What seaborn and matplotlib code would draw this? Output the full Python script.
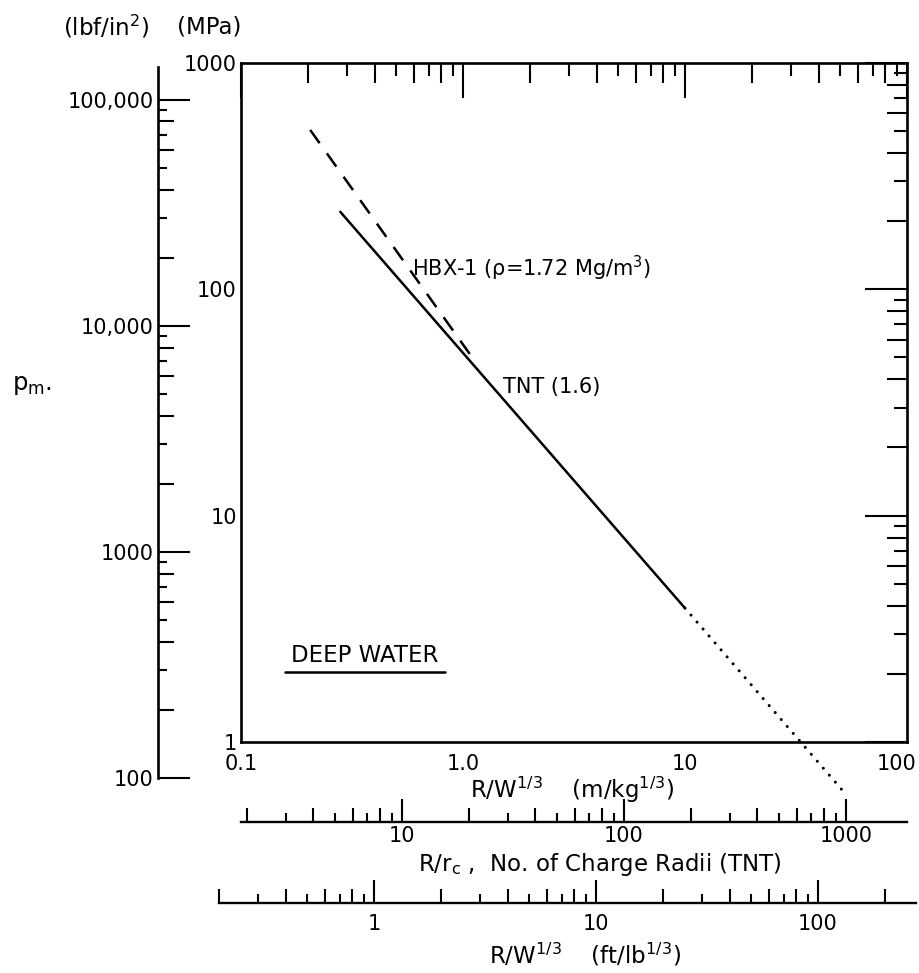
import numpy as np
import pandas as pd
import matplotlib
matplotlib.use("Agg")
import matplotlib.pyplot as plt
import seaborn as sns
from matplotlib.ticker import FixedLocator, FixedFormatter, NullFormatter
from matplotlib.lines import Line2D
from matplotlib.transforms import ScaledTranslation

# Peak shock-wave pressure in deep water versus scaled distance
# scaled distance R/W^(1/3) in m/kg^(1/3), peak pressure in MPa
tnt_z = [0.28, 10.0]
tnt_p = [220.0, 3.9]
tnt_ext_z = [10.0, 52.0]
tnt_ext_p = [3.9, 0.6]
hbx_z = [0.205, 1.1]
hbx_p = [506.0, 50.0]

mpa_ticks = [1, 10, 100, 1000]
mpa_labels = ["1", "10", "100", "1000"]
psi_ticks = [100, 1000, 10000, 100000]
psi_labels = ["100", "1000", "10,000", "100,000"]
z_ticks = [0.1, 1, 10, 100]
z_labels = ["0.1", "1.0", "10", "100"]
rc_ticks = [10, 100, 1000]
rc_labels = ["10", "100", "1000"]
ft_ticks = [1, 10, 100]
ft_labels = ["1", "10", "100"]

# unit conversions
PSI_PER_MPA = 145.038
RC_PER_Z = 18.87      # TNT charge radius, rho = 1.6 Mg/m^3
FT_PER_Z = 2.520      # (ft/lb^1/3) per (m/kg^1/3)

# ---- page geometry (pixels) ----
W, H = 920, 973
X0, DX = 241.0, 222.0     # x pixel of R/W^1/3 = 0.1, pixels per decade
Y0, DY = 63.0, 226.3      # y pixel of 1000 MPa, pixels per decade


def x_px(z):
    return X0 + (np.log10(z) + 1) * DX


def y_px(p):
    return Y0 + (3 - np.log10(p)) * DY


def box(xl, xr, yt, yb):
    return [xl / W, 1 - yb / H, (xr - xl) / W, (yb - yt) / H]


def minors(lo_exp, hi_exp):
    return [m * 10.0 ** e for e in range(lo_exp, hi_exp) for m in range(2, 10)]


def mant(v):
    return int(round(v / 10 ** np.floor(np.log10(v) + 1e-9)))


def set_minor_lengths(axis, long1, short1, long2=None, short2=None):
    locs = axis.get_minorticklocs()
    for t, v in zip(axis.get_minor_ticks(len(locs)), locs):
        even = mant(v) % 2 == 0
        t.tick1line.set_markersize(long1 if even else short1)
        if long2 is not None:
            t.tick2line.set_markersize(long2 if even else short2)


def set_major_lengths(axis, len1, len2=None):
    locs = axis.get_majorticklocs()
    for t in axis.get_major_ticks(len(locs)):
        t.tick1line.set_markersize(len1)
        if len2 is not None:
            t.tick2line.set_markersize(len2)


sns.set_theme(style="white")
plt.rcParams["font.family"] = ["DejaVu Sans"]
plt.rcParams["mathtext.default"] = "regular"
plt.rcParams["text.color"] = "black"
plt.rcParams["axes.edgecolor"] = "black"
plt.rcParams["xtick.color"] = "black"
plt.rcParams["ytick.color"] = "black"
plt.rcParams["xtick.labelcolor"] = "black"
plt.rcParams["ytick.labelcolor"] = "black"

FS = 15          # tick numbers
FS_T = 16.5      # titles and notes
LW_SPINE = 1.9
LW_TICK = 1.5

fig = plt.figure(figsize=(W / 100, H / 100), dpi=100)
fig.patch.set_facecolor("white")

# ---------------- main pressure/distance frame ----------------
ax = fig.add_axes(box(X0, X0 + 3 * DX, Y0, Y0 + 3 * DY))
ax.set_xscale("log")
ax.set_yscale("log")

curves = pd.DataFrame({
    "z": tnt_z + tnt_ext_z + hbx_z,
    "p": tnt_p + tnt_ext_p + hbx_p,
    "curve": ["TNT"] * len(tnt_z) + ["TNT ext"] * len(tnt_ext_z) + ["HBX-1"] * len(hbx_z),
})
sns.lineplot(data=curves, x="z", y="p", style="curve",
             dashes={"TNT": "", "TNT ext": (0.01, 3.0), "HBX-1": (6.5, 5.0)},
             color="black", linewidth=1.8, estimator=None, sort=False,
             legend=False, ax=ax)
for line in ax.lines:
    line.set_clip_on(False)
    xd = np.asarray(line.get_xdata())
    if len(xd) and np.isclose(xd[0], tnt_ext_z[0]):
        line.set_dash_capstyle("round")
        line.set_linewidth(2.2)

ax.set_xlim(0.1, 100)
ax.set_ylim(1, 1000)
ax.set_xlabel("")
ax.set_ylabel("")
ax.xaxis.set_major_locator(FixedLocator(z_ticks))
ax.xaxis.set_major_formatter(FixedFormatter(z_labels))
ax.xaxis.set_minor_locator(FixedLocator(minors(-1, 2)))
ax.xaxis.set_minor_formatter(NullFormatter())
ax.yaxis.set_major_locator(FixedLocator(mpa_ticks))
ax.yaxis.set_major_formatter(FixedFormatter(mpa_labels))
ax.yaxis.set_minor_locator(FixedLocator(minors(0, 3)))
ax.yaxis.set_minor_formatter(NullFormatter())
ax.tick_params(which="both", direction="in", top=True, right=True,
               labeltop=False, labelright=False, width=LW_TICK, color="black")
ax.tick_params(axis="x", which="major", pad=9, labelsize=FS)
ax.tick_params(axis="y", which="major", pad=3, labelsize=FS)
for s in ax.spines.values():
    s.set_linewidth(LW_SPINE)
    s.set_color("black")

set_major_lengths(ax.yaxis, 32, 30)
set_minor_lengths(ax.yaxis, 14.5, 9.5, 14.5, 9.5)
set_major_lengths(ax.xaxis, 10, 25)
set_minor_lengths(ax.xaxis, 9.5, 6.5, 14.5, 9.5)

# keep the last distance number inside the page
last = ax.xaxis.get_major_ticks(len(z_ticks))[-1]
last.label1.set_transform(last.label1.get_transform()
                          + ScaledTranslation(-0.10, 0, fig.dpi_scale_trans))

ax.text(0.257, 0.698, r"HBX-1 ($\rho$=1.72 Mg/m$^3$)", transform=ax.transAxes,
        ha="left", va="center", fontsize=FS)
ax.text(0.393, 0.523, "TNT (1.6)", transform=ax.transAxes,
        ha="left", va="center", fontsize=FS)
ax.text(0.186, 0.127, "DEEP WATER", transform=ax.transAxes,
        ha="center", va="center", fontsize=FS_T)
ax.add_line(Line2D([0.066, 0.306], [0.103, 0.103], transform=ax.transAxes,
                   color="black", linewidth=1.8, clip_on=False))

# ---------------- lbf/in^2 scale on the far left ----------------
psi_bottom_px = y_px(psi_ticks[0] / PSI_PER_MPA)
psi_top_px = 67.0
ax_psi = fig.add_axes(box(158, 158.01, psi_top_px, psi_bottom_px))
ax_psi.set_yscale("log")
ax_psi.set_ylim(psi_ticks[0], PSI_PER_MPA * 10 ** (3 - (psi_top_px - Y0) / DY))
ax_psi.set_xticks([])
ax_psi.yaxis.set_major_locator(FixedLocator(psi_ticks))
ax_psi.yaxis.set_major_formatter(FixedFormatter(psi_labels))
ax_psi.yaxis.set_minor_locator(FixedLocator(minors(2, 6)))
ax_psi.yaxis.set_minor_formatter(NullFormatter())
ax_psi.tick_params(axis="y", which="both", direction="in", left=True, right=False,
                   width=LW_TICK, color="black", labelsize=FS, pad=3)
ax_psi.patch.set_visible(False)
for k, s in ax_psi.spines.items():
    s.set_visible(k == "left")
    s.set_linewidth(LW_SPINE)
    s.set_color("black")
set_major_lengths(ax_psi.yaxis, 23)
set_minor_lengths(ax_psi.yaxis, 11.5, 6.5)


# ---------------- secondary distance scales below ----------------
def distance_scale(base_px, factor, lo, hi_px, ticks, labels, pad):
    left_px = x_px(lo / factor)
    a = fig.add_axes(box(left_px, hi_px, base_px - 1, base_px))
    a.set_xscale("log")
    hi = lo * 10 ** ((hi_px - left_px) / DX)
    a.set_xlim(lo, hi)
    a.set_yticks([])
    a.xaxis.set_major_locator(FixedLocator(ticks))
    a.xaxis.set_major_formatter(FixedFormatter(labels))
    lo_e = int(np.floor(np.log10(lo)))
    hi_e = int(np.ceil(np.log10(hi)))
    a.xaxis.set_minor_locator(FixedLocator([v for v in minors(lo_e, hi_e) if lo <= v <= hi]))
    a.xaxis.set_minor_formatter(NullFormatter())
    a.tick_params(axis="x", which="both", direction="in", bottom=True, top=False,
                  width=LW_TICK, color="black", labelsize=FS, pad=pad)
    a.patch.set_visible(False)
    for k, s in a.spines.items():
        s.set_visible(k == "bottom")
        s.set_linewidth(1.7)
        s.set_color("black")
    set_major_lengths(a.xaxis, 16.5)
    set_minor_lengths(a.xaxis, 10, 6.5)
    return a


distance_scale(822, RC_PER_Z, 0.1 * RC_PER_Z, X0 + 3 * DX, rc_ticks, rc_labels, 3)
distance_scale(903, FT_PER_Z, 0.2, 916, ft_ticks, ft_labels, 8)

# ---------------- axis titles ----------------
fig.text(572 / W, 1 - 790 / H, r"R/W$^{1/3}$    (m/kg$^{1/3}$)",
         ha="center", va="center", fontsize=FS_T)
fig.text(600 / W, 1 - 864 / H, r"R/r$_c$ ,  No. of Charge Radii (TNT)",
         ha="center", va="center", fontsize=FS_T)
fig.text(585 / W, 1 - 955 / H, r"R/W$^{1/3}$    (ft/lb$^{1/3}$)",
         ha="center", va="center", fontsize=FS_T)
fig.text(63 / W, 1 - 27 / H, r"(lbf/in$^2$)", ha="left", va="center", fontsize=FS_T)
fig.text(177 / W, 1 - 27 / H, "(MPa)", ha="left", va="center", fontsize=FS_T)
fig.text(12 / W, 1 - 385 / H, r"p$_m$.", ha="left", va="center", fontsize=FS_T + 1)

fig.savefig("out.png", dpi=100, facecolor="white")
